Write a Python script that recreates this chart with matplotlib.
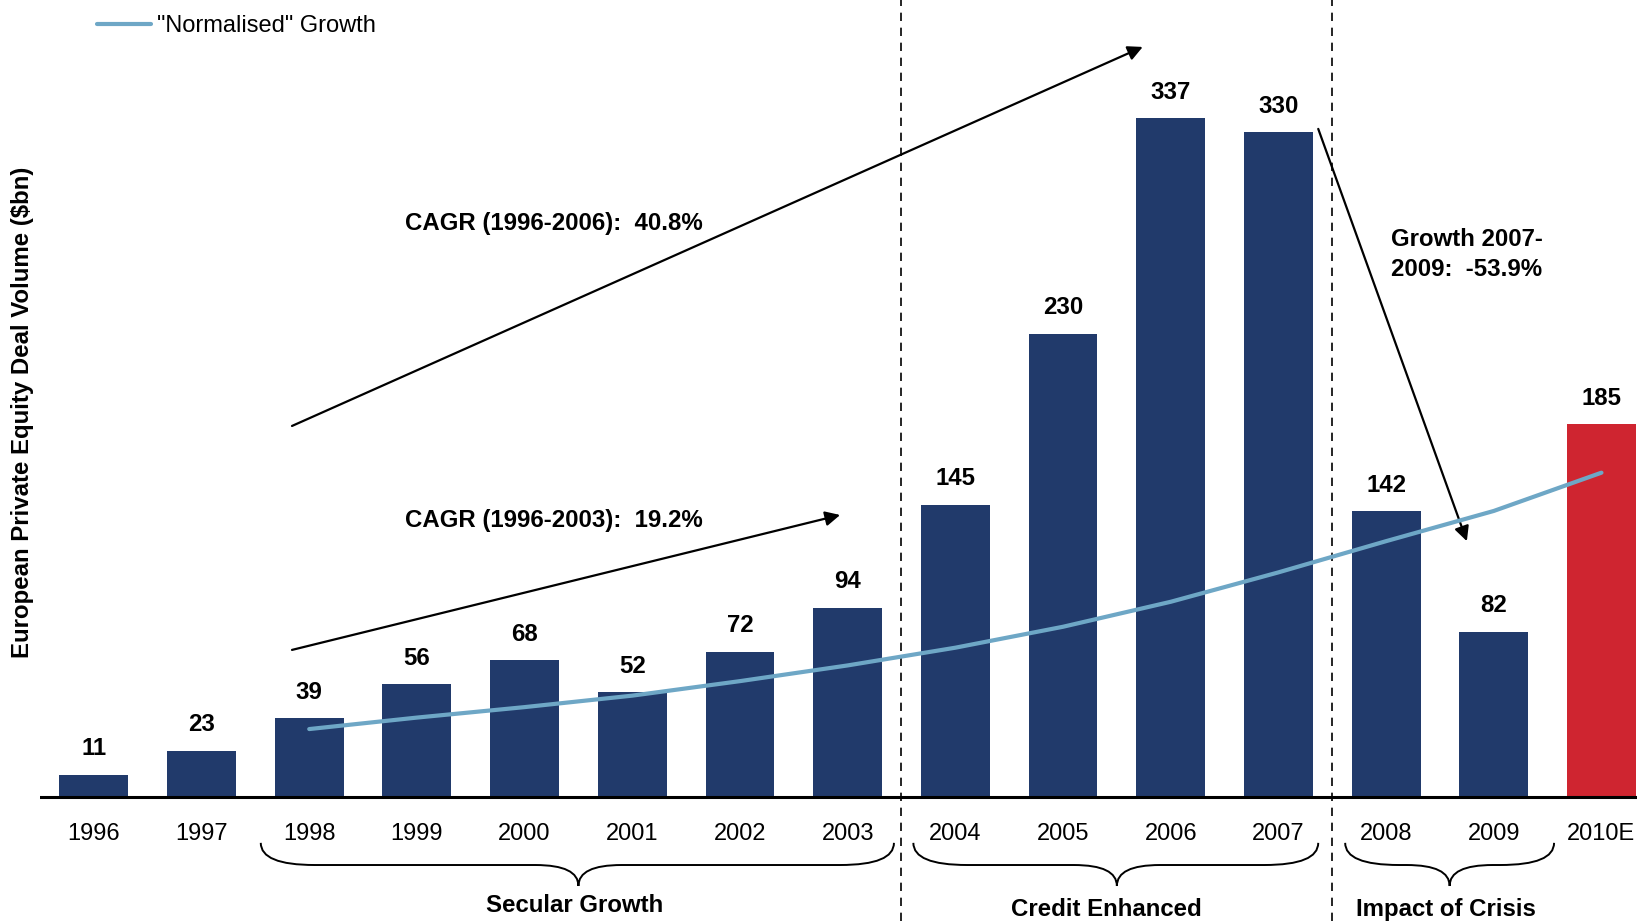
import matplotlib
matplotlib.use("Agg")
import matplotlib.pyplot as plt
from matplotlib.path import Path
from matplotlib.patches import PathPatch

plt.rcParams['font.family'] = ['Liberation Sans', 'DejaVu Sans']

years = ['1996', '1997', '1998', '1999', '2000', '2001', '2002', '2003',
         '2004', '2005', '2006', '2007', '2008', '2009', '2010E']
volume = [11, 23, 39, 56, 68, 52, 72, 94, 145, 230, 337, 330, 142, 82, 185]

# "normalised" trend, 1998 through 2010E
trend_years = years[2:]
trend = [33.7, 39.4, 44.6, 50.3, 57.5, 65.3, 74.1, 84.5, 96.9, 111.5, 127, 142, 161]

phases = ['Secular Growth', 'Credit Enhanced', 'Impact of Crisis']

NAVY = '#213a6b'
RED = '#cf2530'
TREND = '#6ea7c6'
BOLD = 17.3
REG = 17

fig = plt.figure(figsize=(16.37, 9.21), dpi=100)
ax = fig.add_axes([40 / 1637, 0, 1 - 40 / 1637, 1])
ax.set_xlim(-0.5, 14.33)
ax.set_ylim(-61.6, 395.7)
ax.axis('off')

x = list(range(len(years)))
colors = [NAVY] * (len(years) - 1) + [RED]
ax.bar(x, volume, width=0.64, color=colors, zorder=2)
ax.axhline(0, color='black', lw=2.2, zorder=3)

for i, v in enumerate(volume):
    ax.annotate(str(v), (i, v), xytext=(0, 14), textcoords='offset points',
                ha='center', va='baseline', fontsize=BOLD, fontweight='bold')
    ax.text(i, -18.4, years[i], ha='center', va='center', fontsize=REG)

tx = [years.index(y) for y in trend_years]
ax.plot(tx, trend, color=TREND, lw=3, solid_capstyle='round', zorder=4,
        label='"Normalised" Growth')

# phase separators
for xv in (7.5, 11.5):
    ax.axvline(xv, color='black', lw=1.2, ls=(0, (5, 4)), zorder=1)


def brace(x0, x1, xm, ytop=-22.8, ymid=-33.8, ytip=-44.2, r=0.5, r2=0.4):
    verts = [(x0, ytop), (x0, ymid), (x0 + r, ymid),
             (xm - r2, ymid), (xm, ymid), (xm, ytip),
             (xm, ymid), (xm + r2, ymid),
             (x1 - r, ymid), (x1, ymid), (x1, ytop)]
    codes = [Path.MOVETO, Path.CURVE3, Path.CURVE3,
             Path.LINETO, Path.CURVE3, Path.CURVE3,
             Path.CURVE3, Path.CURVE3,
             Path.LINETO, Path.CURVE3, Path.CURVE3]
    ax.add_patch(PathPatch(Path(verts, codes), fill=False, lw=1.4,
                           edgecolor='black', clip_on=False))


brace(1.55, 7.43, 4.5)
brace(7.61, 11.37, 9.5)
brace(11.62, 13.56, 12.59)

ax.text(4.46, -53.8, phases[0], ha='center', va='center', fontsize=BOLD, fontweight='bold')
ax.text(9.4, -56.0, phases[1], ha='center', va='center', fontsize=BOLD, fontweight='bold')
ax.text(12.56, -56.0, phases[2], ha='center', va='center', fontsize=BOLD, fontweight='bold')

arrow = dict(arrowstyle='-|>', color='black', lw=1.6, mutation_scale=22,
             shrinkA=0, shrinkB=0)
ax.annotate('', xy=(9.74, 372.4), xytext=(1.84, 184.2), arrowprops=arrow)
ax.annotate('', xy=(6.93, 140), xytext=(1.84, 73), arrowprops=arrow)
ax.annotate('', xy=(12.75, 127), xytext=(11.37, 331.7), arrowprops=arrow)

ax.text(2.89, 284.5, 'CAGR (1996-2006):  40.8%', ha='left', va='center',
        fontsize=BOLD, fontweight='bold')
ax.text(2.89, 137.5, 'CAGR (1996-2003):  19.2%', ha='left', va='center',
        fontsize=BOLD, fontweight='bold')
ax.text(12.05, 269.5, 'Growth 2007-\n2009:  -53.9%', ha='left', va='center',
        fontsize=BOLD, fontweight='bold', linespacing=1.4)

fig.text(23 / 1637, 1 - 412 / 921, 'European Private Equity Deal Volume ($bn)',
         rotation=90, ha='center', va='center', fontsize=BOLD, fontweight='bold')

fig.legend(loc='upper left', bbox_to_anchor=(97 / 1637, 1 - 15 / 921),
           frameon=False, fontsize=REG, handlelength=2.3, handletextpad=0.25,
           borderpad=0, borderaxespad=0)

fig.savefig('out.png', dpi=100)
